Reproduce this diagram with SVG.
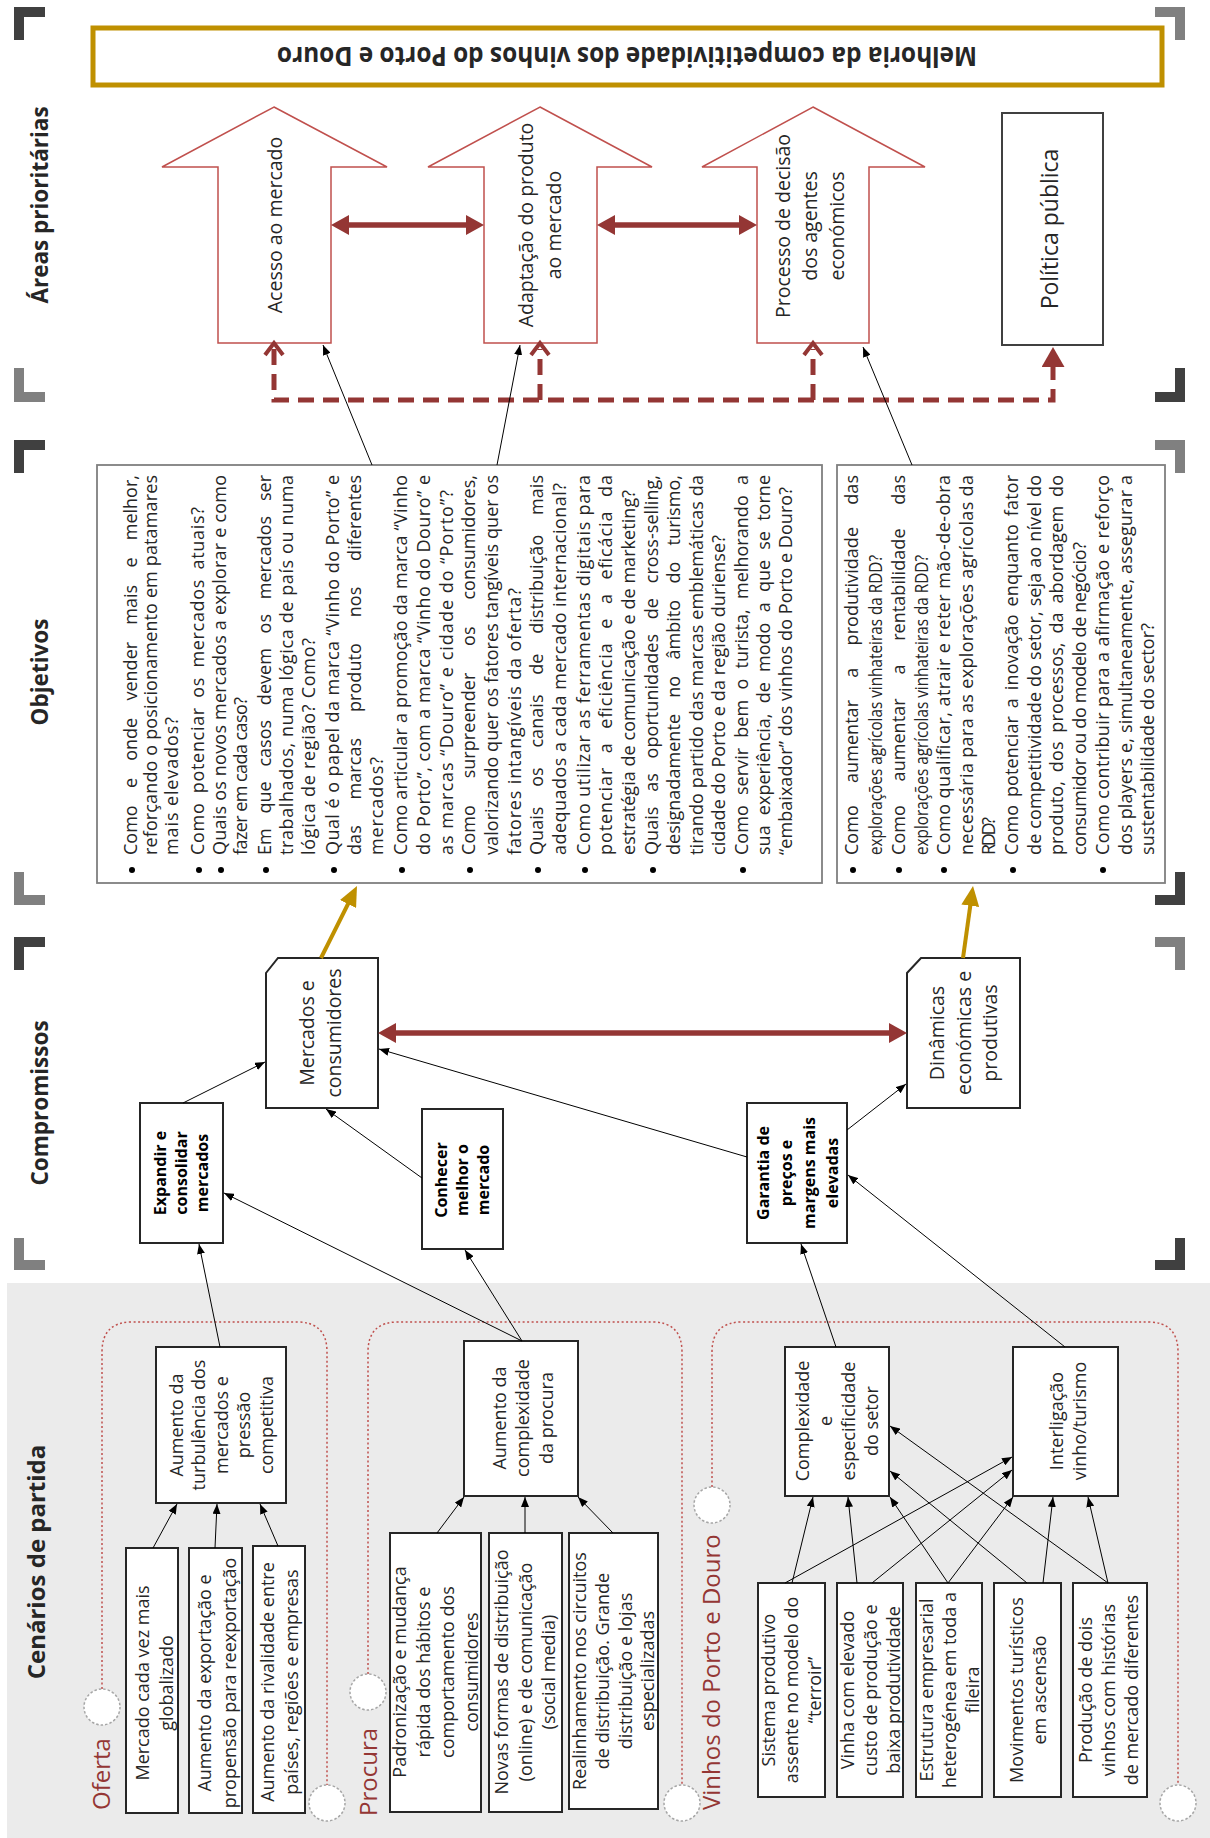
<svg xmlns="http://www.w3.org/2000/svg" width="1210" height="1838" viewBox="0 0 1210 1838">
<style>
text{font-family:"Open Sans","Liberation Sans",sans-serif;fill:#262626}
.hd{font-weight:700;font-size:22.5px;text-anchor:middle}
.lb{font-size:19.5px;text-anchor:middle}
.bx{font-size:18px;text-anchor:middle}
.bd{font-size:16px;font-weight:700;text-anchor:middle;fill:#000}
.ob{font-size:18px}
.gl{font-size:24px;fill:#943634}
.nb{fill:#fff;stroke:#262626;stroke-width:2}
.ar{fill:#fff;stroke:#c0504d;stroke-width:1.5}
.ol{fill:#fff;stroke:#7f7f7f;stroke-width:1.8}
.dc{fill:none;stroke:#c0504d;stroke-width:1.5;stroke-dasharray:2 2.5}
.ci{fill:#fff;stroke:#a6a6a6;stroke-width:1.5;stroke-dasharray:2.5 2}
.bk{fill:none;stroke-width:10}
.tl{fill:none;stroke:#000;stroke-width:1;marker-end:url(#ah)}
.gd{fill:none;stroke:#bf9000;stroke-width:4;marker-end:url(#gh)}
.rd{fill:none;stroke:#943634;stroke-width:5.5;marker-start:url(#rh);marker-end:url(#rh)}
.ds{fill:none;stroke:#943634;stroke-width:5;stroke-dasharray:16 9}
</style>
<defs>
<marker id="ah" viewBox="0 0 10 8" refX="10" refY="4" markerWidth="10" markerHeight="8" markerUnits="userSpaceOnUse" orient="auto"><path d="M0,0L10,4L0,8z" fill="#000"/></marker>
<marker id="gh" viewBox="0 0 20 18" refX="14" refY="9" markerWidth="20" markerHeight="18" markerUnits="userSpaceOnUse" orient="auto"><path d="M0,0L20,9L0,18z" fill="#bf9000"/></marker>
<marker id="rh" viewBox="0 0 18 20" refX="12" refY="10" markerWidth="18" markerHeight="20" markerUnits="userSpaceOnUse" orient="auto-start-reverse"><path d="M0,0L18,10L0,20z" fill="#943634"/></marker>
<marker id="ch" viewBox="-3 -3 20 26" refX="6" refY="10" markerWidth="20" markerHeight="26" markerUnits="userSpaceOnUse" orient="auto-start-reverse" overflow="visible"><path d="M0,1L12,10L0,19" fill="none" stroke="#943634" stroke-width="4"/></marker>
<marker id="ph" viewBox="0 0 20 23" refX="14" refY="11.5" markerWidth="20" markerHeight="23" markerUnits="userSpaceOnUse" orient="auto"><path d="M0,0L20,11.5L0,23z" fill="#943634"/></marker>
</defs>

<rect x="0" y="0" width="1210" height="1838" fill="#fff"/>
<rect x="7" y="1283" width="1203" height="555" fill="#ebebeb"/>

<g id="brackets">
<path class="bk" stroke="#404040" d="M19,40V12H45"/>
<path class="bk" stroke="#808080" d="M19,368V397H45"/>
<path class="bk" stroke="#808080" d="M1155,12H1180V40"/>
<path class="bk" stroke="#404040" d="M1180,368V397H1155"/>
<path class="bk" stroke="#404040" d="M19,473V445H45"/>
<path class="bk" stroke="#808080" d="M19,872V900H45"/>
<path class="bk" stroke="#808080" d="M1155,445H1180V473"/>
<path class="bk" stroke="#404040" d="M1180,872V900H1155"/>
<path class="bk" stroke="#404040" d="M19,970V942H45"/>
<path class="bk" stroke="#808080" d="M19,1238V1265H45"/>
<path class="bk" stroke="#808080" d="M1155,942H1180V970"/>
<path class="bk" stroke="#404040" d="M1180,1238V1265H1155"/>
</g>

<g id="headers">
<text class="hd" font-size="22" transform="translate(0,205) rotate(-90)" x="0" y="48">Áreas prioritárias</text>
<text class="hd" transform="translate(0,672) rotate(-90)" x="0" y="48">Objetivos</text>
<text class="hd" transform="translate(0,1103) rotate(-90)" x="0" y="48">Compromissos</text>
<text class="hd" style="font-size:24px" transform="translate(0,1562) rotate(-90)" x="0" y="45">Cenários de partida</text>
</g>

<g id="title">
<rect x="93" y="28" width="1069" height="57" fill="#fff" stroke="#bf9000" stroke-width="5"/>
<text transform="translate(627,47) rotate(180)" x="0" y="0" text-anchor="middle" font-size="26" font-weight="700" textLength="700" lengthAdjust="spacingAndGlyphs">Melhoria da competitividade dos vinhos do Porto e Douro</text>
</g>

<g id="acesso">
<polygon class="ar" points="274,107 387,167 331,167 331,343 218,343 218,167 162,167"/>
<text class="lb" transform="translate(0,225) rotate(-90)"><tspan x="0" y="282">Acesso ao mercado</tspan></text>
</g>
<g id="adaptacao">
<polygon class="ar" points="540,107 652,167 597,167 597,343 484,343 484,167 428,167"/>
<text class="lb" transform="translate(0,225) rotate(-90)"><tspan x="0" y="533">Adaptação do produto</tspan><tspan x="0" y="561">ao mercado</tspan></text>
</g>
<g id="processo">
<polygon class="ar" points="813,107 925,167 869,167 869,343 757,343 757,167 702,167"/>
<text class="lb" transform="translate(0,226) rotate(-90)"><tspan x="0" y="790">Processo de decisão</tspan><tspan x="0" y="817">dos agentes</tspan><tspan x="0" y="844">económicos</tspan></text>
</g>
<g id="politica">
<rect x="1002" y="113" width="101" height="232" fill="#fff" stroke="#404040" stroke-width="2"/>
<text class="lb" style="font-size:23px" transform="translate(0,229) rotate(-90)"><tspan x="0" y="1058">Política pública</tspan></text>
</g>

<g id="objetivos-mercados">
<rect class="ol" x="97" y="465" width="725" height="418"/>
<g fill="#000">
<circle cx="132" cy="870" r="3"/><circle cx="199" cy="870" r="3"/><circle cx="221" cy="870" r="3"/><circle cx="266" cy="870" r="3"/><circle cx="334" cy="870" r="3"/><circle cx="402" cy="870" r="3"/><circle cx="470" cy="870" r="3"/><circle cx="538" cy="870" r="3"/><circle cx="585" cy="870" r="3"/><circle cx="653" cy="870" r="3"/><circle cx="743" cy="870" r="3"/>
</g>
<g transform="translate(0,855) rotate(-90)">
<text class="ob" x="0" y="137" word-spacing="12.5" textLength="380" lengthAdjust="spacing">Como e onde vender mais e melhor,</text>
<text class="ob" x="0" y="157" textLength="380" lengthAdjust="spacing">reforçando o posicionamento em patamares</text>
<text class="ob" x="0" y="178" textLength="138" lengthAdjust="spacing">mais elevados?</text>
<text class="ob" x="0" y="204" word-spacing="4" textLength="348" lengthAdjust="spacing">Como potenciar os mercados atuais?</text>
<text class="ob" x="0" y="226" textLength="380" lengthAdjust="spacing">Quais os novos mercados a explorar e como</text>
<text class="ob" x="0" y="247" textLength="158" lengthAdjust="spacing">fazer em cada caso?</text>
<text class="ob" x="0" y="271" word-spacing="10" textLength="380" lengthAdjust="spacing">Em que casos devem os mercados ser</text>
<text class="ob" x="0" y="293" textLength="380" lengthAdjust="spacing">trabalhados, numa lógica de país ou numa</text>
<text class="ob" x="0" y="315" textLength="217" lengthAdjust="spacing">lógica de região? Como?</text>
<text class="ob" x="0" y="339" textLength="380" lengthAdjust="spacing">Qual é o papel da marca “Vinho do Porto” e</text>
<text class="ob" x="0" y="361" word-spacing="21" textLength="380" lengthAdjust="spacing">das marcas produto nos diferentes</text>
<text class="ob" x="0" y="383" textLength="98" lengthAdjust="spacing">mercados?</text>
<text class="ob" x="0" y="407" textLength="380" lengthAdjust="spacing">Como articular a promoção da marca “Vinho</text>
<text class="ob" x="0" y="430" textLength="380" lengthAdjust="spacing">do Porto”, com a marca “Vinho do Douro” e</text>
<text class="ob" x="0" y="453" textLength="365" lengthAdjust="spacing">as marcas “Douro” e cidade do “Porto”?</text>
<text class="ob" x="0" y="475" word-spacing="22" textLength="380" lengthAdjust="spacing">Como surpreender os consumidores,</text>
<text class="ob" x="0" y="498" textLength="380" lengthAdjust="spacing">valorizando quer os fatores tangíveis quer os</text>
<text class="ob" x="0" y="521" textLength="267" lengthAdjust="spacing">fatores intangíveis da oferta?</text>
<text class="ob" x="0" y="543" word-spacing="15" textLength="380" lengthAdjust="spacing">Quais os canais de distribuição mais</text>
<text class="ob" x="0" y="566" textLength="372" lengthAdjust="spacing">adequados a cada mercado internacional?</text>
<text class="ob" x="0" y="590" textLength="380" lengthAdjust="spacing">Como utilizar as ferramentas digitais para</text>
<text class="ob" x="0" y="612" word-spacing="8" textLength="380" lengthAdjust="spacing">potenciar a eficiência e a eficácia da</text>
<text class="ob" x="0" y="635" textLength="365" lengthAdjust="spacing">estratégia de comunicação e de marketing?</text>
<text class="ob" x="0" y="658" word-spacing="10" textLength="380" lengthAdjust="spacing">Quais as oportunidades de cross-selling,</text>
<text class="ob" x="0" y="680" word-spacing="11.5" textLength="380" lengthAdjust="spacing">designadamente no âmbito do turismo,</text>
<text class="ob" x="0" y="703" textLength="380" lengthAdjust="spacing">tirando partido das marcas emblemáticas da</text>
<text class="ob" x="0" y="725" textLength="320" lengthAdjust="spacing">cidade do Porto e da região duriense?</text>
<text class="ob" x="0" y="748" word-spacing="5.5" textLength="380" lengthAdjust="spacing">Como servir bem o turista, melhorando a</text>
<text class="ob" x="0" y="770" word-spacing="5.5" textLength="380" lengthAdjust="spacing">sua experiência, de modo a que se torne</text>
<text class="ob" x="0" y="792" textLength="368" lengthAdjust="spacing">“embaixador” dos vinhos do Porto e Douro?</text>
</g>
</g>

<g id="objetivos-dinamicas">
<rect class="ol" x="837" y="465" width="328" height="418"/>
<g fill="#000">
<circle cx="853" cy="870" r="3"/><circle cx="899" cy="870" r="3"/><circle cx="944" cy="870" r="3"/><circle cx="1013" cy="870" r="3"/><circle cx="1103" cy="870" r="3"/>
</g>
<g transform="translate(0,855) rotate(-90)">
<text class="ob" x="0" y="858" word-spacing="17.5" textLength="380" lengthAdjust="spacing">Como aumentar a produtividade das</text>
<text class="ob" x="0" y="882" textLength="300" lengthAdjust="spacingAndGlyphs">explorações agrícolas vinhateiras da RDD?</text>
<text class="ob" x="0" y="905" word-spacing="19" textLength="380" lengthAdjust="spacing">Como aumentar a rentabilidade das</text>
<text class="ob" x="0" y="928" textLength="300" lengthAdjust="spacingAndGlyphs">explorações agrícolas vinhateiras da RDD?</text>
<text class="ob" x="0" y="950" textLength="380" lengthAdjust="spacing">Como qualificar, atrair e reter mão-de-obra</text>
<text class="ob" x="0" y="973" textLength="380" lengthAdjust="spacing">necessária para as explorações agrícolas da</text>
<text class="ob" x="0" y="995" textLength="38" lengthAdjust="spacing">RDD?</text>
<text class="ob" x="0" y="1018" word-spacing="3" textLength="380" lengthAdjust="spacing">Como potenciar a inovação enquanto fator</text>
<text class="ob" x="0" y="1041" textLength="380" lengthAdjust="spacing">de competitividade do setor, seja ao nível do</text>
<text class="ob" x="0" y="1063" word-spacing="4" textLength="380" lengthAdjust="spacing">produto, dos processos, da abordagem do</text>
<text class="ob" x="0" y="1086" textLength="313" lengthAdjust="spacing">consumidor ou do modelo de negócio?</text>
<text class="ob" x="0" y="1109" textLength="380" lengthAdjust="spacing">Como contribuir para a afirmação e reforço</text>
<text class="ob" x="0" y="1132" textLength="380" lengthAdjust="spacing">dos players e, simultaneamente, assegurar a</text>
<text class="ob" x="0" y="1154" textLength="232" lengthAdjust="spacing">sustentabilidade do sector?</text>
</g>
</g>

<g id="mercados-consumidores">
<polygon class="nb" points="278,958 378,958 378,1108 266,1108 266,973"/>
<text class="lb" transform="translate(0,1033) rotate(-90)"><tspan x="0" y="314">Mercados e</tspan><tspan x="0" y="341">consumidores</tspan></text>
</g>
<g id="dinamicas">
<polygon class="nb" points="921,958 1020,958 1020,1108 907,1108 907,973"/>
<text class="lb" transform="translate(0,1033) rotate(-90)"><tspan x="0" y="944">Dinâmicas</tspan><tspan x="0" y="971">económicas e</tspan><tspan x="0" y="997">produtivas</tspan></text>
</g>
<g id="expandir">
<rect class="nb" x="140" y="1103" width="83" height="140"/>
<text class="bd" transform="translate(0,1173) rotate(-90)"><tspan x="0" y="166">Expandir e</tspan><tspan x="0" y="187">consolidar</tspan><tspan x="0" y="208">mercados</tspan></text>
</g>
<g id="conhecer">
<rect class="nb" x="422" y="1109" width="81" height="140"/>
<text class="bd" transform="translate(0,1180) rotate(-90)"><tspan x="0" y="447">Conhecer</tspan><tspan x="0" y="468">melhor o</tspan><tspan x="0" y="489">mercado</tspan></text>
</g>
<g id="garantia">
<rect class="nb" x="747" y="1103" width="100" height="140"/>
<text class="bd" transform="translate(0,1173) rotate(-90)"><tspan x="0" y="769">Garantia de</tspan><tspan x="0" y="792">preços e</tspan><tspan x="0" y="815">margens mais</tspan><tspan x="0" y="838">elevadas</tspan></text>
</g>

<g id="grupo-oferta">
<path class="dc" d="M102,1689V1352Q102,1322 132,1322H297Q327,1322 327,1352V1785"/>
<circle class="ci" cx="102" cy="1707" r="18"/>
<circle class="ci" cx="327" cy="1803" r="18"/>
<text class="gl" transform="translate(0,1810) rotate(-90)" x="0" y="110">Oferta</text>
</g>
<g id="grupo-procura">
<path class="dc" d="M368,1674V1352Q368,1322 398,1322H652Q682,1322 682,1352V1785"/>
<circle class="ci" cx="368" cy="1692" r="18"/>
<circle class="ci" cx="682" cy="1803" r="18"/>
<text class="gl" transform="translate(0,1816) rotate(-90)" x="0" y="377">Procura</text>
</g>
<g id="grupo-vinhos">
<path class="dc" d="M712,1487V1352Q712,1322 742,1322H1148Q1178,1322 1178,1352V1785"/>
<circle class="ci" cx="712" cy="1505" r="18"/>
<circle class="ci" cx="1178" cy="1803" r="18"/>
<text class="gl" transform="translate(0,1810) rotate(-90)" x="0" y="720">Vinhos do Porto e Douro</text>
</g>

<g id="turbulencia">
<rect class="nb" x="156" y="1347" width="130" height="156"/>
<text class="bx" transform="translate(0,1425) rotate(-90)"><tspan x="0" y="182.5">Aumento da</tspan><tspan x="0" y="205">turbulência dos</tspan><tspan x="0" y="227.5">mercados e</tspan><tspan x="0" y="250">pressão</tspan><tspan x="0" y="272.5">competitiva</tspan></text>
</g>
<g id="globalizado">
<rect class="nb" x="126" y="1548" width="52" height="265"/>
<text class="bx" transform="translate(0,1683) rotate(-90)"><tspan x="0" y="149">Mercado cada vez mais</tspan><tspan x="0" y="173">globalizado</tspan></text>
</g>
<g id="exportacao">
<rect class="nb" x="189" y="1548" width="53" height="265"/>
<text class="bx" transform="translate(0,1683) rotate(-90)"><tspan x="0" y="211">Aumento da exportação e</tspan><tspan x="0" y="236">propensão para reexportação</tspan></text>
</g>
<g id="rivalidade">
<rect class="nb" x="253" y="1546" width="52" height="267"/>
<text class="bx" transform="translate(0,1682) rotate(-90)"><tspan x="0" y="274">Aumento da rivalidade entre</tspan><tspan x="0" y="298">países, regiões e empresas</tspan></text>
</g>

<g id="complexidade-procura">
<rect class="nb" x="464" y="1341" width="114" height="155"/>
<text class="bx" transform="translate(0,1418) rotate(-90)"><tspan x="0" y="506">Aumento da</tspan><tspan x="0" y="529">complexidade</tspan><tspan x="0" y="553">da procura</tspan></text>
</g>
<g id="padronizacao">
<rect class="nb" x="390" y="1533" width="91" height="279"/>
<text class="bx" transform="translate(0,1672) rotate(-90)"><tspan x="0" y="406">Padronização e mudança</tspan><tspan x="0" y="430">rápida dos hábitos e</tspan><tspan x="0" y="454">comportamento dos</tspan><tspan x="0" y="478">consumidores</tspan></text>
</g>
<g id="novas-formas">
<rect class="nb" x="489" y="1533" width="73" height="279"/>
<text class="bx" transform="translate(0,1672) rotate(-90)"><tspan x="0" y="508">Novas formas de distribuição</tspan><tspan x="0" y="532">(online) e de comunicação</tspan><tspan x="0" y="555">(social media)</tspan></text>
</g>
<g id="realinhamento">
<rect class="nb" x="569" y="1533" width="89" height="276"/>
<text class="bx" transform="translate(0,1671) rotate(-90)"><tspan x="0" y="586">Realinhamento nos circuitos</tspan><tspan x="0" y="609">de distribuição. Grande</tspan><tspan x="0" y="632">distribuição e lojas</tspan><tspan x="0" y="654">especializadas</tspan></text>
</g>

<g id="complexidade-setor">
<rect class="nb" x="785" y="1347" width="104" height="149"/>
<text class="bx" transform="translate(0,1421) rotate(-90)"><tspan x="0" y="809">Complexidade</tspan><tspan x="0" y="832">e</tspan><tspan x="0" y="855">especificidade</tspan><tspan x="0" y="878">do setor</tspan></text>
</g>
<g id="interligacao">
<rect class="nb" x="1013" y="1347" width="105" height="149"/>
<text class="bx" transform="translate(0,1421) rotate(-90)"><tspan x="0" y="1063">Interligação</tspan><tspan x="0" y="1086">vinho/turismo</tspan></text>
</g>
<g id="sistema">
<rect class="nb" x="758" y="1583" width="67" height="214"/>
<text class="bx" transform="translate(0,1690) rotate(-90)"><tspan x="0" y="775">Sistema produtivo</tspan><tspan x="0" y="798">assente no modelo do</tspan><tspan x="0" y="821">“terroir”</tspan></text>
</g>
<g id="vinha">
<rect class="nb" x="837" y="1583" width="66" height="214"/>
<text class="bx" transform="translate(0,1690) rotate(-90)"><tspan x="0" y="854">Vinha com elevado</tspan><tspan x="0" y="877">custo de produção e</tspan><tspan x="0" y="900">baixa produtividade</tspan></text>
</g>
<g id="estrutura">
<rect class="nb" x="916" y="1583" width="66" height="214"/>
<text class="bx" transform="translate(0,1690) rotate(-90)"><tspan x="0" y="933">Estrutura empresarial</tspan><tspan x="0" y="956">heterogénea em toda a</tspan><tspan x="0" y="979">fileira</tspan></text>
</g>
<g id="movimentos">
<rect class="nb" x="994" y="1583" width="67" height="214"/>
<text class="bx" transform="translate(0,1690) rotate(-90)"><tspan x="0" y="1023">Movimentos turísticos</tspan><tspan x="0" y="1046">em ascensão</tspan></text>
</g>
<g id="producao">
<rect class="nb" x="1073" y="1583" width="74" height="214"/>
<text class="bx" transform="translate(0,1690) rotate(-90)"><tspan x="0" y="1092">Produção de dois</tspan><tspan x="0" y="1115">vinhos com histórias</tspan><tspan x="0" y="1138">de mercado diferentes</tspan></text>
</g>

<g id="connectors">
<path class="rd" d="M337,225H478"/>
<path class="rd" d="M603,225H751"/>
<path class="rd" d="M384,1033H901"/>
<path class="ds" d="M274,349V400H1053V353" marker-start="url(#ch)" marker-end="url(#ph)"/>
<path class="ds" d="M540,400V349" marker-end="url(#ch)"/>
<path class="ds" d="M813,400V349" marker-end="url(#ch)"/>
<path class="gd" d="M321,958L354.3,891.4"/>
<path class="gd" d="M963,958L972.2,891.9"/>
<line class="tl" x1="372" y1="465" x2="323" y2="345"/>
<line class="tl" x1="497" y1="465" x2="520" y2="345"/>
<line class="tl" x1="912" y1="465" x2="863" y2="347"/>
<line class="tl" x1="183" y1="1103" x2="265" y2="1062"/>
<line class="tl" x1="220" y1="1347" x2="199" y2="1244"/>
<line class="tl" x1="522" y1="1341" x2="224" y2="1193"/>
<line class="tl" x1="522" y1="1341" x2="465" y2="1250"/>
<line class="tl" x1="422" y1="1178" x2="326" y2="1109"/>
<line class="tl" x1="747" y1="1157" x2="379" y2="1049"/>
<line class="tl" x1="847" y1="1130" x2="906" y2="1084"/>
<line class="tl" x1="836" y1="1347" x2="801" y2="1244"/>
<line class="tl" x1="1065" y1="1347" x2="848" y2="1175"/>
<line class="tl" x1="153" y1="1548" x2="177" y2="1504"/>
<line class="tl" x1="215" y1="1548" x2="217" y2="1504"/>
<line class="tl" x1="278" y1="1546" x2="260" y2="1504"/>
<line class="tl" x1="437" y1="1533" x2="464" y2="1497"/>
<line class="tl" x1="525" y1="1533" x2="525" y2="1497"/>
<line class="tl" x1="613" y1="1533" x2="578" y2="1497"/>
<line class="tl" x1="792" y1="1583" x2="813" y2="1497"/>
<line class="tl" x1="785" y1="1583" x2="1012" y2="1457"/>
<line class="tl" x1="857" y1="1583" x2="848" y2="1497"/>
<line class="tl" x1="872" y1="1583" x2="1012" y2="1470"/>
<line class="tl" x1="948" y1="1583" x2="890" y2="1497"/>
<line class="tl" x1="948" y1="1583" x2="1013" y2="1497"/>
<line class="tl" x1="1027" y1="1583" x2="890" y2="1471"/>
<line class="tl" x1="1043" y1="1583" x2="1053" y2="1497"/>
<line class="tl" x1="1108" y1="1583" x2="890" y2="1426"/>
<line class="tl" x1="1108" y1="1583" x2="1088" y2="1497"/>
</g>
</svg>
